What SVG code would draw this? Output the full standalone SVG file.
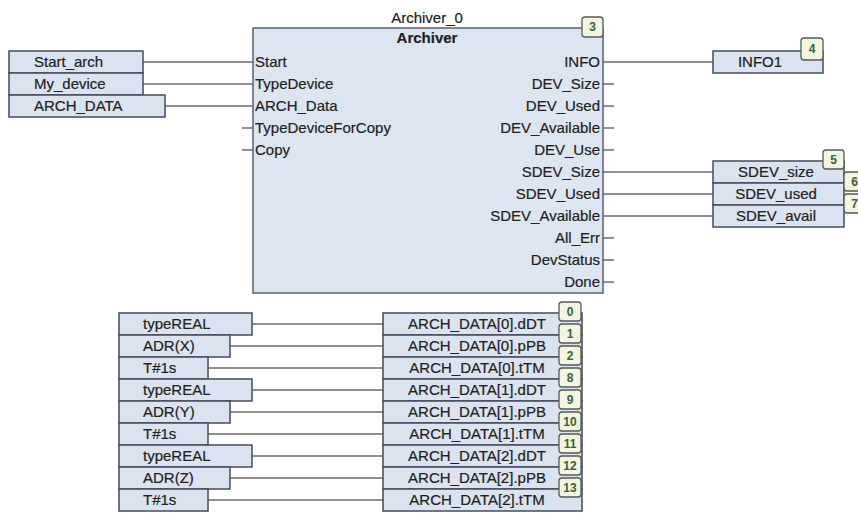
<svg xmlns="http://www.w3.org/2000/svg" width="858" height="513" viewBox="0 0 858 513">
<style>
.bx{fill:#dae3ef;stroke:#454b5c;stroke-width:1.5}
.blk{fill:#dde5f0;stroke:#5a6070;stroke-width:1.5}
.bd{fill:#f2f5e2;stroke:#555a55;stroke-width:1.3}
.bdt{font-family:"Liberation Sans",Arial,sans-serif;font-size:12px;font-weight:bold;fill:#3f6030;text-anchor:middle}
.t{font-family:"Liberation Sans",Arial,sans-serif;font-size:15px;fill:#222222;stroke:#222222;stroke-width:0.2}
.ts{font-family:"Liberation Sans",Arial,sans-serif;font-size:15px;fill:#222222;stroke:#222222;stroke-width:0.2;text-anchor:middle}
.c{text-anchor:middle}
.r{text-anchor:end}
.ln{stroke:#6a6a6a;stroke-width:1.5;fill:none}
</style>
<rect width="858" height="513" fill="#ffffff"/>

<g id="connectors">
  <line class="ln" x1="143" y1="62" x2="253" y2="62"/>
  <line class="ln" x1="143" y1="84" x2="253" y2="84"/>
  <line class="ln" x1="165" y1="106" x2="253" y2="106"/>
  <line class="ln" x1="242" y1="128" x2="253" y2="128"/>
  <line class="ln" x1="242" y1="150" x2="253" y2="150"/>
  <line class="ln" x1="603" y1="62" x2="713" y2="62"/>
  <line class="ln" x1="603" y1="84" x2="614" y2="84"/>
  <line class="ln" x1="603" y1="106" x2="614" y2="106"/>
  <line class="ln" x1="603" y1="128" x2="614" y2="128"/>
  <line class="ln" x1="603" y1="150" x2="614" y2="150"/>
  <line class="ln" x1="603" y1="172" x2="713" y2="172"/>
  <line class="ln" x1="603" y1="194" x2="713" y2="194"/>
  <line class="ln" x1="603" y1="216" x2="713" y2="216"/>
  <line class="ln" x1="603" y1="238" x2="614" y2="238"/>
  <line class="ln" x1="603" y1="260" x2="614" y2="260"/>
  <line class="ln" x1="603" y1="282" x2="614" y2="282"/>
  <line class="ln" x1="252" y1="324" x2="383" y2="324"/>
  <line class="ln" x1="230" y1="346" x2="383" y2="346"/>
  <line class="ln" x1="208" y1="368" x2="383" y2="368"/>
  <line class="ln" x1="252" y1="390" x2="383" y2="390"/>
  <line class="ln" x1="230" y1="412" x2="383" y2="412"/>
  <line class="ln" x1="208" y1="434" x2="383" y2="434"/>
  <line class="ln" x1="252" y1="456" x2="383" y2="456"/>
  <line class="ln" x1="230" y1="478" x2="383" y2="478"/>
  <line class="ln" x1="208" y1="500" x2="383" y2="500"/>
</g>

<g id="in_start_arch"><rect class="bx" x="9" y="51" width="134" height="22"/><text class="t" x="34" y="67">Start_arch</text></g>
<g id="in_my_device"><rect class="bx" x="9" y="73" width="134" height="22"/><text class="t" x="34" y="89">My_device</text></g>
<g id="in_arch_data"><rect class="bx" x="9" y="95" width="156" height="22"/><text class="t" x="34" y="111">ARCH_DATA</text></g>

<g id="archiver">
  <text class="t c" x="427" y="23">Archiver_0</text>
  <rect class="blk" x="253" y="28" width="350" height="265"/>
  <text class="t c" x="427" y="43" font-weight="bold">Archiver</text>
  <text class="t" x="255" y="67">Start</text>
  <text class="t" x="255" y="89">TypeDevice</text>
  <text class="t" x="255" y="111">ARCH_Data</text>
  <text class="t" x="255" y="133">TypeDeviceForCopy</text>
  <text class="t" x="255" y="155">Copy</text>
  <text class="t r" x="600" y="67">INFO</text>
  <text class="t r" x="600" y="89">DEV_Size</text>
  <text class="t r" x="600" y="111">DEV_Used</text>
  <text class="t r" x="600" y="133">DEV_Available</text>
  <text class="t r" x="600" y="155">DEV_Use</text>
  <text class="t r" x="600" y="177">SDEV_Size</text>
  <text class="t r" x="600" y="199">SDEV_Used</text>
  <text class="t r" x="600" y="221">SDEV_Available</text>
  <text class="t r" x="600" y="243">All_Err</text>
  <text class="t r" x="600" y="265">DevStatus</text>
  <text class="t r" x="600" y="287">Done</text>
  <rect class="bd" x="582" y="17" width="21" height="20" rx="3"/><text class="bdt" x="592.5" y="31">3</text>
</g>

<g id="out_info1"><rect class="bx" x="713" y="51" width="110" height="22"/><text class="t c" x="760" y="67">INFO1</text>
  <rect class="bd" x="801" y="38" width="22" height="22" rx="3"/><text class="bdt" x="812" y="53">4</text></g>

<g id="out_sdev_size"><rect class="bx" x="713" y="161" width="131" height="22"/><text class="t c" x="776" y="177">SDEV_size</text>
  <rect class="bd" x="823" y="150" width="21" height="19" rx="3"/><text class="bdt" x="833.5" y="164">5</text></g>
<g id="out_sdev_used"><rect class="bx" x="713" y="183" width="131" height="22"/><text class="t c" x="776" y="199">SDEV_used</text>
  <rect class="bd" x="844" y="172" width="21" height="19" rx="3"/><text class="bdt" x="854.5" y="186">6</text></g>
<g id="out_sdev_avail"><rect class="bx" x="713" y="205" width="131" height="22"/><text class="t c" x="776" y="221">SDEV_avail</text>
  <rect class="bd" x="844" y="194" width="21" height="19" rx="3"/><text class="bdt" x="854.5" y="208">7</text></g>

<g id="src_0"><rect class="bx" x="119" y="313" width="133" height="22"/><text class="t" x="143" y="329">typeREAL</text></g>
<g id="src_1"><rect class="bx" x="119" y="335" width="111" height="22"/><text class="t" x="143" y="351">ADR(X)</text></g>
<g id="src_2"><rect class="bx" x="119" y="357" width="89" height="22"/><text class="t" x="143" y="373">T#1s</text></g>
<g id="src_3"><rect class="bx" x="119" y="379" width="133" height="22"/><text class="t" x="143" y="395">typeREAL</text></g>
<g id="src_4"><rect class="bx" x="119" y="401" width="111" height="22"/><text class="t" x="143" y="417">ADR(Y)</text></g>
<g id="src_5"><rect class="bx" x="119" y="423" width="89" height="22"/><text class="t" x="143" y="439">T#1s</text></g>
<g id="src_6"><rect class="bx" x="119" y="445" width="133" height="22"/><text class="t" x="143" y="461">typeREAL</text></g>
<g id="src_7"><rect class="bx" x="119" y="467" width="111" height="22"/><text class="t" x="143" y="483">ADR(Z)</text></g>
<g id="src_8"><rect class="bx" x="119" y="489" width="89" height="22"/><text class="t" x="143" y="505">T#1s</text></g>

<g id="dst_0"><rect class="bx" x="383" y="313" width="199" height="22"/><text class="ts" x="477" y="329">ARCH_DATA[0].dDT</text></g>
<g id="dst_1"><rect class="bx" x="383" y="335" width="199" height="22"/><text class="ts" x="477" y="351">ARCH_DATA[0].pPB</text></g>
<g id="dst_2"><rect class="bx" x="383" y="357" width="199" height="22"/><text class="ts" x="477" y="373">ARCH_DATA[0].tTM</text></g>
<g id="dst_3"><rect class="bx" x="383" y="379" width="199" height="22"/><text class="ts" x="477" y="395">ARCH_DATA[1].dDT</text></g>
<g id="dst_4"><rect class="bx" x="383" y="401" width="199" height="22"/><text class="ts" x="477" y="417">ARCH_DATA[1].pPB</text></g>
<g id="dst_5"><rect class="bx" x="383" y="423" width="199" height="22"/><text class="ts" x="477" y="439">ARCH_DATA[1].tTM</text></g>
<g id="dst_6"><rect class="bx" x="383" y="445" width="199" height="22"/><text class="ts" x="477" y="461">ARCH_DATA[2].dDT</text></g>
<g id="dst_7"><rect class="bx" x="383" y="467" width="199" height="22"/><text class="ts" x="477" y="483">ARCH_DATA[2].pPB</text></g>
<g id="dst_8"><rect class="bx" x="383" y="489" width="199" height="22"/><text class="ts" x="477" y="505">ARCH_DATA[2].tTM</text></g>

<g id="badges_bottom">
  <rect class="bd" x="559" y="302" width="22" height="19" rx="3"/><text class="bdt" x="570" y="316">0</text>
  <rect class="bd" x="559" y="324" width="22" height="19" rx="3"/><text class="bdt" x="570" y="338">1</text>
  <rect class="bd" x="559" y="346" width="22" height="19" rx="3"/><text class="bdt" x="570" y="360">2</text>
  <rect class="bd" x="559" y="368" width="22" height="19" rx="3"/><text class="bdt" x="570" y="382">8</text>
  <rect class="bd" x="559" y="390" width="22" height="19" rx="3"/><text class="bdt" x="570" y="404">9</text>
  <rect class="bd" x="559" y="412" width="22" height="19" rx="3"/><text class="bdt" x="570" y="426">10</text>
  <rect class="bd" x="559" y="434" width="22" height="19" rx="3"/><text class="bdt" x="570" y="448">11</text>
  <rect class="bd" x="559" y="456" width="22" height="19" rx="3"/><text class="bdt" x="570" y="470">12</text>
  <rect class="bd" x="559" y="478" width="22" height="19" rx="3"/><text class="bdt" x="570" y="492">13</text>
</g>
</svg>
